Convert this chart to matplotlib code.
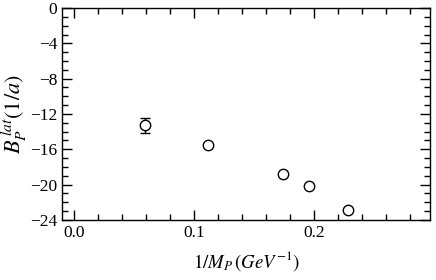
import matplotlib
matplotlib.use("Agg")
import matplotlib.pyplot as plt
from matplotlib.ticker import MultipleLocator

plt.rcParams['font.family'] = ['Liberation Serif', 'DejaVu Serif']
plt.rcParams['mathtext.fontset'] = 'stix'

# data
inv_mass = [0.059, 0.112, 0.174, 0.196, 0.229]
binding = [-13.25, -15.5, -18.8, -20.2, -22.85]
binding_err = [0.85, 0.0, 0.0, 0.0, 0.0]

fig = plt.figure(figsize=(4.36, 2.80), dpi=100)
ax = fig.add_axes([62 / 436, 60 / 280, 368 / 436, 212 / 280])

ax.errorbar(inv_mass, binding, yerr=binding_err, fmt='o', mfc='white', mec='black',
            ms=7.5, mew=1.0, ecolor='black', elinewidth=1.0, capsize=3.5, capthick=1.0)

ax.set_xlim(-0.01, 0.297)
ax.set_ylim(-24, 0)
ax.xaxis.set_major_locator(MultipleLocator(0.1))
ax.xaxis.set_minor_locator(MultipleLocator(0.02))
ax.yaxis.set_major_locator(MultipleLocator(4))
ax.yaxis.set_minor_locator(MultipleLocator(1))
ax.set_xticks([0.0, 0.1, 0.2])
ax.set_xticklabels(['0.0', '0.1', '0.2'])
ax.set_yticklabels([f'{int(v)}'.replace('-', '\u2212') for v in ax.get_yticks()])

ax.tick_params(which='both', direction='in', top=True, right=True, labelsize=12.5, width=1.0)
ax.tick_params(which='major', length=7)
ax.tick_params(which='minor', length=4)
for s in ax.spines.values():
    s.set_linewidth(1.0)

ax.set_xlabel(r'$1/M_P\,(GeV^{-1})$', fontsize=13.5, labelpad=6)
ax.set_ylabel(r'$B_P^{\,lat}(1/a)$', fontsize=16, labelpad=1)

fig.savefig('out.png', dpi=100)
